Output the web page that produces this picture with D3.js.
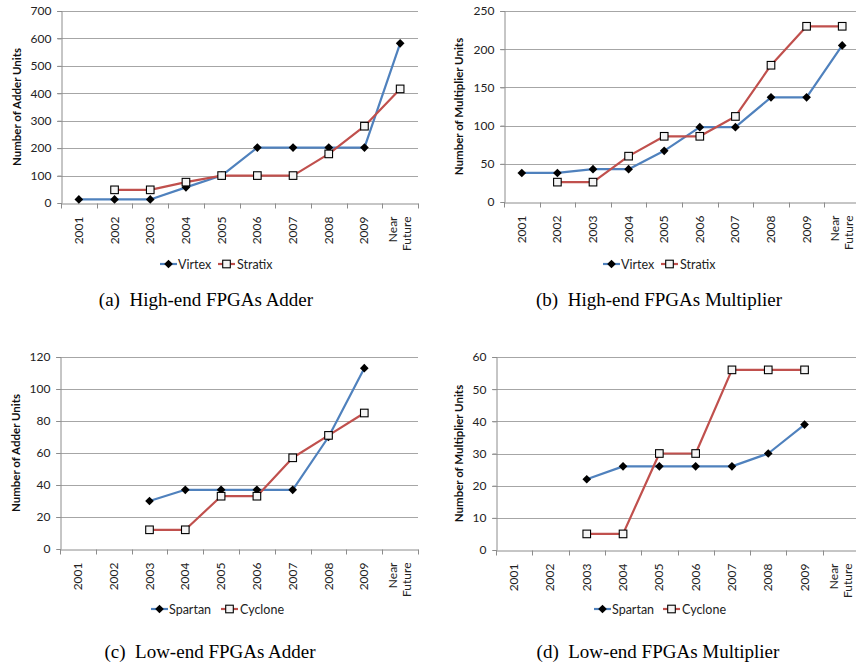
<!DOCTYPE html>
<html>
<head>
<meta charset="utf-8">
<script src="https://cdn.jsdelivr.net/npm/d3@7"></script>
<style>
  body { margin: 0; background: #fff; }
  svg { display: block; }
</style>
</head>
<body>
<svg id="chart" width="856" height="666"></svg>
<script>
// categories on the x axis
const years = ['2001', '2002', '2003', '2004', '2005', '2006', '2007', '2008', '2009', 'Near Future'];

// (a) high-end adders
const virtexAdder = [13, 13, 13, 57, 100, 202, 202, 202, 202, 582];
const stratixAdder = [null, 48, 48, 76, 100, 100, 100, 179, 280, 416];

// (b) high-end multipliers
const virtexMult = [38, 38, 43, 43, 67, 98, 98, 137, 137, 205];
const stratixMult = [null, 26, 26, 60, 86, 86, 112, 179, 230, 230];

// (c) low-end adders
const spartanAdder = [null, null, 30, 37, 37, 37, 37, 70, 113, null];
const cycloneAdder = [null, null, 12, 12, 33, 33, 57, 71, 85, null];

// (d) low-end multipliers
const spartanMult = [null, null, 22, 26, 26, 26, 26, 30, 39, null];
const cycloneMult = [null, null, 5, 5, 30, 30, 56, 56, 56, null];

const blue = '#4f81bd';
const red = '#c0504d';
const sans = 'Lato, "Open Sans", sans-serif';

const svg = d3.select('#chart');

function drawPanel(cfg) {
    const g = svg.append('g');

    const x = d3.scaleBand().domain(years).range([cfg.left, cfg.right]).paddingInner(0).paddingOuter(0);
    const y = d3.scaleLinear().domain([0, cfg.ymax]).range([cfg.bottom, cfg.top]);
    const yTicks = d3.range(0, cfg.ymax + cfg.step / 2, cfg.step);

    // gridlines
    g.append('g')
        .selectAll('line')
        .data(yTicks.filter(d => d > 0))
        .join('line')
        .attr('x1', cfg.left - 4)
        .attr('x2', cfg.right)
        .attr('y1', d => Math.round(y(d)) + 0.5)
        .attr('y2', d => Math.round(y(d)) + 0.5)
        .attr('stroke', '#a6a6a6')
        .attr('stroke-width', 1);

    // y axis
    const yAxis = g.append('g')
        .attr('transform', `translate(${Math.round(cfg.left) + 0.5},0)`)
        .call(d3.axisLeft(y).tickValues(yTicks).tickSize(4).tickPadding(6).tickFormat(d3.format('d')));
    yAxis.select('.domain').attr('stroke', '#8c8c8c');
    yAxis.selectAll('.tick line').attr('stroke', '#8c8c8c');
    yAxis.selectAll('text')
        .attr('font-family', sans)
        .attr('font-size', 12)
        .attr('fill', '#222');

    // x axis (labels rotated, ticks at category boundaries)
    const xAxis = g.append('g')
        .attr('transform', `translate(0,${Math.round(cfg.bottom) + 0.5})`)
        .call(d3.axisBottom(x).tickSize(0).tickPadding(0));
    xAxis.select('.domain').attr('stroke', '#8c8c8c');
    xAxis.selectAll('.tick text').remove();
    xAxis.selectAll('.boundary')
        .data(years.map(d => x(d)).concat([x.range()[1]]))
        .join('line')
        .attr('class', 'boundary')
        .attr('x1', d => Math.round(d) + 0.5)
        .attr('x2', d => Math.round(d) + 0.5)
        .attr('y1', 0)
        .attr('y2', 5)
        .attr('stroke', '#8c8c8c');

    xAxis.selectAll('.tick').each(function(d) {
        const lines = d.split(' ');
        const tick = d3.select(this);
        lines.forEach((t, i) => {
            const dx = (i - (lines.length - 1) / 2) * 14.5;
            tick.append('text')
                .attr('transform', `translate(${dx + 4},13) rotate(-90)`)
                .attr('text-anchor', 'end')
                .attr('font-family', sans)
                .attr('font-size', 12)
                .attr('fill', '#222')
                .text(t);
        });
    });

    // y title
    g.append('text')
        .attr('transform', `translate(${cfg.titleX},${(cfg.top + cfg.bottom) / 2}) rotate(-90)`)
        .attr('text-anchor', 'middle')
        .attr('font-family', sans)
        .attr('font-weight', 'bold')
        .attr('font-size', 11.5)
        .attr('fill', '#111')
        .text(cfg.yTitle);

    const line = d3.line()
        .defined(d => d != null)
        .x((d, i) => x(years[i]) + x.bandwidth() / 2)
        .y(d => y(d));

    const points = vals => vals.map((v, i) => ({ v, i })).filter(p => p.v != null);

    // series A (blue, diamonds)
    g.append('path')
        .attr('d', line(cfg.seriesA))
        .attr('fill', 'none')
        .attr('stroke', blue)
        .attr('stroke-width', 2.2)
        .attr('stroke-linejoin', 'round');
    // series B (red, squares)
    g.append('path')
        .attr('d', line(cfg.seriesB))
        .attr('fill', 'none')
        .attr('stroke', red)
        .attr('stroke-width', 2.2)
        .attr('stroke-linejoin', 'round');

    const diamond = d3.symbol().type(d3.symbolDiamond2).size(48);
    g.append('g')
        .selectAll('path')
        .data(points(cfg.seriesA))
        .join('path')
        .attr('d', diamond())
        .attr('transform', p => `translate(${x(years[p.i]) + x.bandwidth() / 2},${y(p.v)})`)
        .attr('fill', '#000');

    g.append('g')
        .selectAll('rect')
        .data(points(cfg.seriesB))
        .join('rect')
        .attr('x', p => x(years[p.i]) + x.bandwidth() / 2 - 3.8)
        .attr('y', p => y(p.v) - 3.8)
        .attr('width', 7.6)
        .attr('height', 7.6)
        .attr('fill', '#f5f5f5')
        .attr('stroke', '#000')
        .attr('stroke-width', 1.1);

    // legend
    const lg = g.append('g').attr('transform', `translate(${cfg.legendX},${cfg.legendY})`);
    lg.append('line').attr('x1', 0).attr('x2', 17).attr('stroke', blue).attr('stroke-width', 2.2);
    lg.append('path').attr('d', diamond()).attr('transform', 'translate(8.5,0)').attr('fill', '#000');
    lg.append('text')
        .attr('x', 18).attr('y', 4.5)
        .attr('font-family', sans).attr('font-size', 12.5).attr('fill', '#222')
        .text(cfg.nameA);
    const ox = cfg.legendGap;
    lg.append('line').attr('x1', ox).attr('x2', ox + 17).attr('stroke', red).attr('stroke-width', 2.2);
    lg.append('rect')
        .attr('x', ox + 8.5 - 3.8).attr('y', -3.8).attr('width', 7.6).attr('height', 7.6)
        .attr('fill', '#f5f5f5').attr('stroke', '#000').attr('stroke-width', 1.1);
    lg.append('text')
        .attr('x', ox + 19).attr('y', 4.5)
        .attr('font-family', sans).attr('font-size', 12.5).attr('fill', '#222')
        .text(cfg.nameB);

    // caption
    svg.append('text')
        .attr('x', cfg.capX)
        .attr('y', cfg.capY)
        .attr('text-anchor', 'middle')
        .attr('font-family', '"Liberation Serif", "Times New Roman", serif')
        .attr('font-size', 19)
        .attr('fill', '#000')
        .attr('xml:space', 'preserve')
        .text(cfg.caption);
}

drawPanel({
    left: 61, right: 418, top: 11, bottom: 203, ymax: 700, step: 100,
    seriesA: virtexAdder, seriesB: stratixAdder, nameA: 'Virtex', nameB: 'Stratix',
    yTitle: 'Number of Adder Units', titleX: 21,
    legendX: 160, legendY: 264, legendGap: 58,
    caption: '(a)  High-end FPGAs Adder', capX: 206, capY: 306
});

drawPanel({
    left: 504, right: 860, top: 11, bottom: 202, ymax: 250, step: 50,
    seriesA: virtexMult, seriesB: stratixMult, nameA: 'Virtex', nameB: 'Stratix',
    yTitle: 'Number of Multiplier Units', titleX: 463,
    legendX: 603, legendY: 264, legendGap: 58,
    caption: '(b)  High-end FPGAs Multiplier', capX: 659, capY: 306
});

drawPanel({
    left: 60, right: 418, top: 357, bottom: 549, ymax: 120, step: 20,
    seriesA: spartanAdder, seriesB: cycloneAdder, nameA: 'Spartan', nameB: 'Cyclone',
    yTitle: 'Number of Adder Units', titleX: 20,
    legendX: 151, legendY: 609, legendGap: 70,
    caption: '(c)  Low-end FPGAs Adder', capX: 210, capY: 658
});

drawPanel({
    left: 496, right: 859, top: 357, bottom: 550, ymax: 60, step: 10,
    seriesA: spartanMult, seriesB: cycloneMult, nameA: 'Spartan', nameB: 'Cyclone',
    yTitle: 'Number of Multiplier Units', titleX: 463,
    legendX: 594, legendY: 609, legendGap: 69,
    caption: '(d)  Low-end FPGAs Multiplier', capX: 658, capY: 658
});
</script>
</body>
</html>
